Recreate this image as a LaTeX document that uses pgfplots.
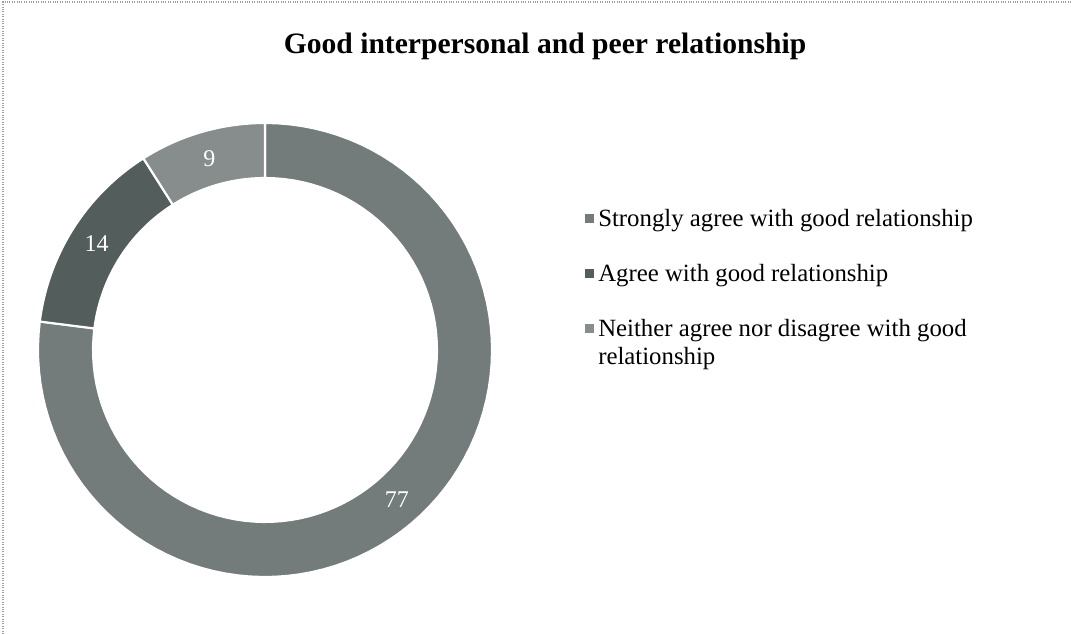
\documentclass[border=0pt]{standalone}
\usepackage{fontspec}
\setmainfont{Liberation Serif}
\usepackage{pgfplots}
\usepackage{pgfplotstable}
\pgfplotsset{compat=1.18}
\usepgfplotslibrary{fillbetween}

\definecolor{cStrong}{HTML}{737C7A}
\definecolor{cAgree}{HTML}{535D5B}
\definecolor{cNeither}{HTML}{868D8C}

% shares in percent, clockwise from 12 o'clock
\pgfplotstableread{
value
77
14
9
}\shares

\begin{document}
\begin{tikzpicture}
\pgfplotstablegetelem{0}{value}\of\shares \let\va\pgfplotsretval
\pgfplotstablegetelem{1}{value}\of\shares \let\vb\pgfplotsretval
\pgfplotstablegetelem{2}{value}\of\shares \let\vc\pgfplotsretval
\pgfmathsetmacro{\aA}{90}
\pgfmathsetmacro{\aB}{\aA-3.6*\va}
\pgfmathsetmacro{\aC}{\aB-3.6*\vb}
\pgfmathsetmacro{\aD}{\aC-3.6*\vc}
\def\cx{265}\def\cy{284}\def\Ro{227}\def\Ri{172}\def\Rm{199.5}
\pgfmathsetmacro{\mA}{(\aA+\aB)/2}
\pgfmathsetmacro{\mB}{(\aB+\aC)/2}
\pgfmathsetmacro{\mC}{(\aC+\aD)/2}

\begin{axis}[x=0.75pt, y=0.75pt, scale only axis,
  xmin=0, xmax=1071, ymin=0, ymax=634,
  hide axis, clip=false]
  % 77
  \addplot[name path=o1, draw=none, domain=\aB:\aA, samples=90] ({\cx+\Ro*cos(x)}, {\cy+\Ro*sin(x)});
  \addplot[name path=i1, draw=none, domain=\aB:\aA, samples=90] ({\cx+\Ri*cos(x)}, {\cy+\Ri*sin(x)});
  \addplot[fill=cStrong, draw=white, line width=1.6pt] fill between[of=o1 and i1];
  % 14
  \addplot[name path=o2, draw=none, domain=\aC:\aB, samples=30] ({\cx+\Ro*cos(x)}, {\cy+\Ro*sin(x)});
  \addplot[name path=i2, draw=none, domain=\aC:\aB, samples=30] ({\cx+\Ri*cos(x)}, {\cy+\Ri*sin(x)});
  \addplot[fill=cAgree, draw=white, line width=1.6pt] fill between[of=o2 and i2];
  % 9
  \addplot[name path=o3, draw=none, domain=\aD:\aC, samples=30] ({\cx+\Ro*cos(x)}, {\cy+\Ro*sin(x)});
  \addplot[name path=i3, draw=none, domain=\aD:\aC, samples=30] ({\cx+\Ri*cos(x)}, {\cy+\Ri*sin(x)});
  \addplot[fill=cNeither, draw=white, line width=1.6pt] fill between[of=o3 and i3];

  % value labels
  \node[white, font=\fontsize{18}{20}\selectfont] at (axis cs:{\cx+\Rm*cos(\mA)},{\cy+\Rm*sin(\mA)}) {\va};
  \node[white, font=\fontsize{18}{20}\selectfont] at (axis cs:{\cx+\Rm*cos(\mB)},{\cy+\Rm*sin(\mB)}) {\vb};
  \node[white, font=\fontsize{18}{20}\selectfont] at (axis cs:{\cx+\Rm*cos(\mC)},{\cy+\Rm*sin(\mC)}) {\vc};

  % title
  \node[anchor=base, font=\bfseries\fontsize{22.2}{26}\selectfont] at (axis cs:545,580) {Good interpersonal and peer relationship};

  % legend
  \fill[cStrong]  (axis cs:585,411) rectangle (axis cs:594,420);
  \fill[cAgree]   (axis cs:585,356) rectangle (axis cs:594,365);
  \fill[cNeither] (axis cs:585,301) rectangle (axis cs:594,310);
  \node[anchor=base west, inner sep=0pt, font=\fontsize{18.6}{22}\selectfont] at (axis cs:598,407) {Strongly agree with good relationship};
  \node[anchor=base west, inner sep=0pt, font=\fontsize{18.6}{22}\selectfont] at (axis cs:598,352) {Agree with good relationship};
  \node[anchor=base west, inner sep=0pt, font=\fontsize{18.6}{22}\selectfont] at (axis cs:598,297) {Neither agree nor disagree with good};
  \node[anchor=base west, inner sep=0pt, font=\fontsize{18.6}{22}\selectfont] at (axis cs:598,269) {relationship};

  % scanned frame (top and left)
  \draw[gray!75, densely dotted, line width=0.8pt] (axis cs:3,0) -- (axis cs:3,632) -- (axis cs:1071,632);
\end{axis}
\pgfresetboundingbox
\path (0,0) rectangle (803.25pt,475.5pt);
\end{tikzpicture}
\end{document}
